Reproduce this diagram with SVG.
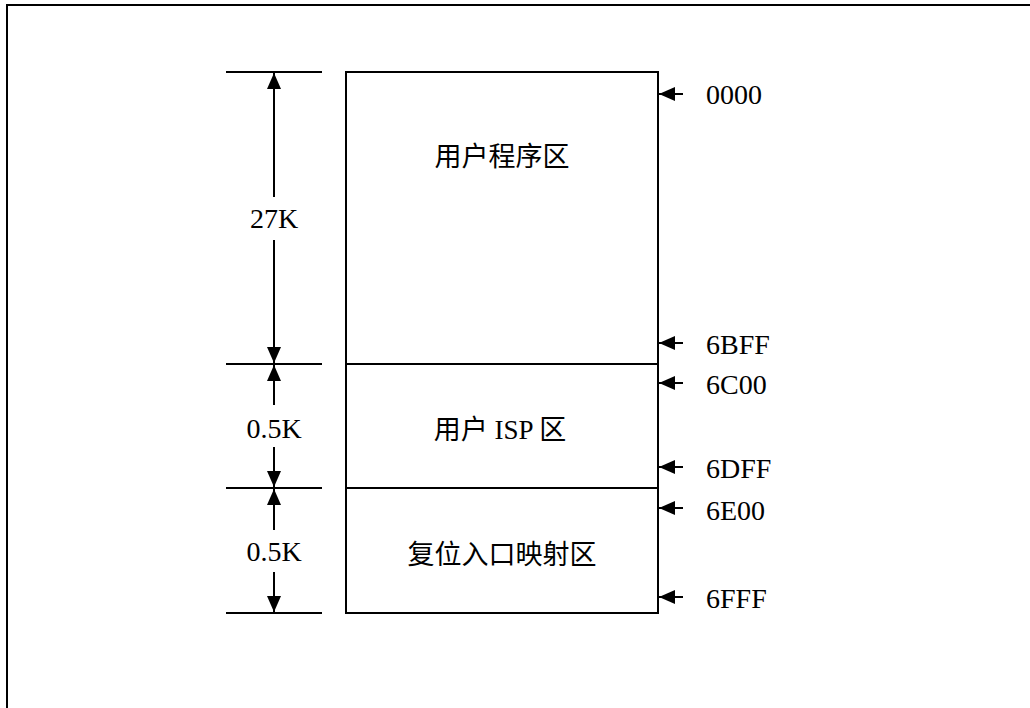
<svg xmlns="http://www.w3.org/2000/svg" width="1030" height="708" viewBox="0 0 1030 708">
<style>
.ln{stroke:#000;stroke-width:2;fill:none}
.t{font-family:"Liberation Serif","Noto Sans CJK SC",serif;font-size:28px;fill:#000}
.c{text-anchor:middle}
.cj{font-family:"Liberation Serif","Noto Sans CJK SC",serif;font-size:27px;fill:#000;text-anchor:middle}
</style>
<defs>
<marker id="ah" viewBox="0 0 16 14" refX="16" refY="7" markerWidth="16" markerHeight="14" markerUnits="userSpaceOnUse" orient="auto">
<path d="M0,0 L16,7 L0,14 Z" fill="#000"/>
</marker>
</defs>
<rect x="0" y="0" width="1030" height="708" fill="#fff"/>
<rect x="7" y="5" width="1040" height="720" fill="none" stroke="#000" stroke-width="2"/>
<g id="memory">
<g id="user-program">
<rect x="346" y="72" width="312" height="292" class="ln"/>
<text class="cj" x="502" y="166">用户程序区</text>
</g>
<g id="user-isp">
<rect x="346" y="364" width="312" height="124" class="ln"/>
<text class="cj" x="500" y="439">用户 ISP 区</text>
</g>
<g id="reset-map">
<rect x="346" y="488" width="312" height="125" class="ln"/>
<text class="cj" x="502" y="564">复位入口映射区</text>
</g>
</g>
<g id="connectors">
<line class="ln" x1="226" y1="72" x2="322" y2="72"/>
<line class="ln" x1="226" y1="364" x2="322" y2="364"/>
<line class="ln" x1="226" y1="488" x2="322" y2="488"/>
<line class="ln" x1="226" y1="613" x2="322" y2="613"/>
<line class="ln" x1="274" y1="197" x2="274" y2="73" marker-end="url(#ah)"/>
<line class="ln" x1="274" y1="240" x2="274" y2="363" marker-end="url(#ah)"/>
<line class="ln" x1="274" y1="405" x2="274" y2="365" marker-end="url(#ah)"/>
<line class="ln" x1="274" y1="447" x2="274" y2="487" marker-end="url(#ah)"/>
<line class="ln" x1="274" y1="530" x2="274" y2="489" marker-end="url(#ah)"/>
<line class="ln" x1="274" y1="572" x2="274" y2="612" marker-end="url(#ah)"/>
<line class="ln" x1="683" y1="94" x2="659" y2="94" marker-end="url(#ah)"/>
<line class="ln" x1="683" y1="343" x2="659" y2="343" marker-end="url(#ah)"/>
<line class="ln" x1="683" y1="383" x2="659" y2="383" marker-end="url(#ah)"/>
<line class="ln" x1="683" y1="467" x2="659" y2="467" marker-end="url(#ah)"/>
<line class="ln" x1="683" y1="508" x2="659" y2="508" marker-end="url(#ah)"/>
<line class="ln" x1="683" y1="597" x2="659" y2="597" marker-end="url(#ah)"/>
</g>
<g id="size-labels">
<text class="t c" x="274" y="228">27K</text>
<text class="t c" x="274" y="438">0.5K</text>
<text class="t c" x="274" y="561">0.5K</text>
</g>
<g id="address-labels">
<text class="t" x="706" y="104">0000</text>
<text class="t" x="706" y="354">6BFF</text>
<text class="t" x="706" y="394">6C00</text>
<text class="t" x="706" y="478">6DFF</text>
<text class="t" x="706" y="520">6E00</text>
<text class="t" x="706" y="608">6FFF</text>
</g>
</svg>
